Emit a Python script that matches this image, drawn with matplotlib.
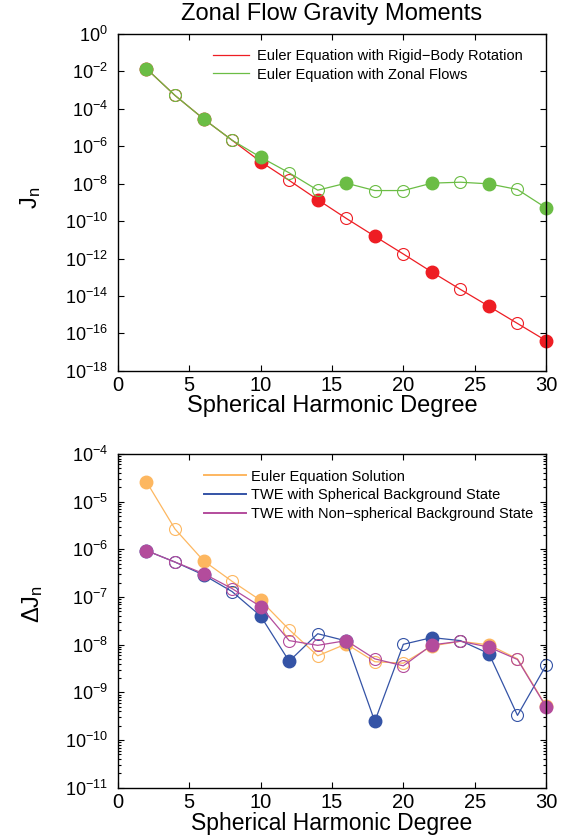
import numpy as np
import matplotlib
matplotlib.use("Agg")
import matplotlib.pyplot as plt
from matplotlib.ticker import LogLocator, NullLocator, FixedLocator
from matplotlib.lines import Line2D

plt.rcParams['font.family'] = ['Liberation Sans', 'DejaVu Sans']
plt.rcParams['mathtext.default'] = 'regular'
plt.rcParams['xtick.direction'] = 'in'
plt.rcParams['ytick.direction'] = 'in'

# degrees
n = np.arange(2, 31, 2)

# gravity moments |J_n|
j_rigid = [1.4e-2, 5.2e-4, 2.9e-5, 2.1e-6, 1.5e-7, 1.5e-8, 1.4e-9, 1.4e-10,
           1.55e-11, 1.75e-12, 1.9e-13, 2.25e-14, 2.8e-15, 3.4e-16, 4.1e-17]
j_zonal = [1.4e-2, 5.2e-4, 2.9e-5, 2.1e-6, 2.6e-7, 3.8e-8, 4.5e-9, 1.07e-8,
           4.3e-9, 4.3e-9, 1.07e-8, 1.2e-8, 9.8e-9, 4.9e-9, 5.1e-10]

# delta J_n
dj_euler = [2.6e-5, 2.66e-6, 5.75e-7, 2.13e-7, 8.5e-8, 2.07e-8, 5.85e-9, 1.04e-8,
            4.4e-9, 4.1e-9, 9.4e-9, 1.18e-8, 9.9e-9, 5.06e-9, 5.2e-10]
dj_twe_sph = [9.4e-7, 5.4e-7, 2.9e-7, 1.3e-7, 4.0e-8, 4.5e-9, 1.7e-8, 1.2e-8,
              2.47e-10, 1.02e-8, 1.41e-8, 1.22e-8, 6.5e-9, 3.3e-10, 3.7e-9]
dj_twe_nonsph = [9.4e-7, 5.4e-7, 3.1e-7, 1.5e-7, 6.3e-8, 1.22e-8, 9.7e-9, 1.22e-8,
                 5.06e-9, 3.6e-9, 9.9e-9, 1.18e-8, 8.9e-9, 4.9e-9, 5.0e-10]

# sign of each value: 1 = positive (filled marker), 0 = negative (open marker)
pos_rigid = [1, 0, 1, 0, 1, 0, 1, 0, 1, 0, 1, 0, 1, 0, 1]
pos_zonal = [1, 0, 1, 0, 1, 0, 0, 1, 0, 0, 1, 0, 1, 0, 1]
pos_euler = [1, 0, 1, 0, 1, 0, 0, 1, 0, 0, 1, 0, 1, 0, 1]
pos_twe_sph = [1, 0, 1, 0, 1, 1, 0, 1, 1, 0, 1, 0, 1, 0, 0]
pos_twe_nonsph = [1, 0, 1, 0, 1, 0, 0, 1, 0, 0, 1, 0, 1, 0, 1]

c_red = '#ee1d23'
c_green = '#6bbd45'
c_orange = '#fdb760'
c_blue = '#3453a6'
c_mag = '#b34c9c'


def series(ax, x, y, pos, color):
    x = np.asarray(x)
    y = np.asarray(y)
    f = np.asarray(pos, dtype=bool)
    ax.plot(x, y, '-', color=color, lw=0.9)
    ax.plot(x[f], y[f], 'o', ms=9, mfc=color, mec=color, lw=0, clip_on=False)
    ax.plot(x[~f], y[~f], 'o', ms=8.6, mfc='none', mec=color, mew=0.8, clip_on=False)


fig = plt.figure(figsize=(5.67, 8.39), dpi=100)
ax1 = fig.add_axes([0.208, 0.558, 0.755, 0.4015])
ax2 = fig.add_axes([0.208, 0.061, 0.755, 0.398])

# top panel
series(ax1, n, j_rigid, pos_rigid, c_red)
series(ax1, n, j_zonal, pos_zonal, c_green)
ax1.set_yscale('log')
ax1.set_ylim(1e-18, 1e0)
ax1.set_xlim(0, 30)
ax1.yaxis.set_major_locator(FixedLocator(10.0 ** np.arange(-18, 1, 2)))
ax1.yaxis.set_minor_locator(NullLocator())
ax1.set_title('Zonal Flow Gravity Moments', fontsize=17, pad=10)
ax1.set_ylabel(r'$\mathregular{J_n}$', fontsize=17)
ax1.yaxis.set_label_coords(-0.175, 0.513)
ax1.set_xlabel('Spherical Harmonic Degree', fontsize=17, labelpad=0)
ax1.legend([Line2D([], [], color=c_red, lw=0.9), Line2D([], [], color=c_green, lw=0.9)],
           ['Euler Equation with Rigid\u2212Body Rotation', 'Euler Equation with Zonal Flows'],
           loc='upper right', bbox_to_anchor=(0.946, 0.955), frameon=False,
           fontsize=10.5, handlelength=2.5, handletextpad=0.55,
           borderaxespad=0, borderpad=0, labelspacing=0.3)

# bottom panel
series(ax2, n, dj_euler, pos_euler, c_orange)
series(ax2, n, dj_twe_sph, pos_twe_sph, c_blue)
series(ax2, n, dj_twe_nonsph, pos_twe_nonsph, c_mag)
ax2.set_yscale('log')
ax2.set_ylim(1e-11, 1e-4)
ax2.set_xlim(0, 30)
ax2.yaxis.set_major_locator(LogLocator(base=10, numticks=20))
ax2.yaxis.set_minor_locator(LogLocator(base=10, subs=np.arange(2, 10), numticks=20))
ax2.set_ylabel(r'$\mathregular{\Delta J_n}$', fontsize=17)
ax2.yaxis.set_label_coords(-0.171, 0.55)
ax2.set_xlabel('Spherical Harmonic Degree', fontsize=16.5, labelpad=0)
ax2.legend([Line2D([], [], color=c_orange, lw=1.4), Line2D([], [], color=c_blue, lw=1.4),
            Line2D([], [], color=c_mag, lw=1.4)],
           ['Euler Equation Solution', 'TWE with Spherical Background State',
            'TWE with Non\u2212spherical Background State'],
           loc='upper right', bbox_to_anchor=(0.97, 0.953), frameon=False,
           fontsize=10.5, handlelength=2.9, handletextpad=0.35,
           borderaxespad=0, borderpad=0, labelspacing=0.32)

for ax in (ax1, ax2):
    ax.set_xticks(np.arange(0, 31, 5))
    ax.tick_params(which='both', top=True, right=True, width=0.8)
    ax.tick_params(axis='x', labelsize=14.5, pad=4)
    ax.tick_params(axis='y', labelsize=13, pad=7)
    ax.tick_params(which='major', length=4)
    ax.tick_params(which='minor', length=2)
    for s in ax.spines.values():
        s.set_linewidth(1.0)

fig.savefig('out.png', dpi=100)
